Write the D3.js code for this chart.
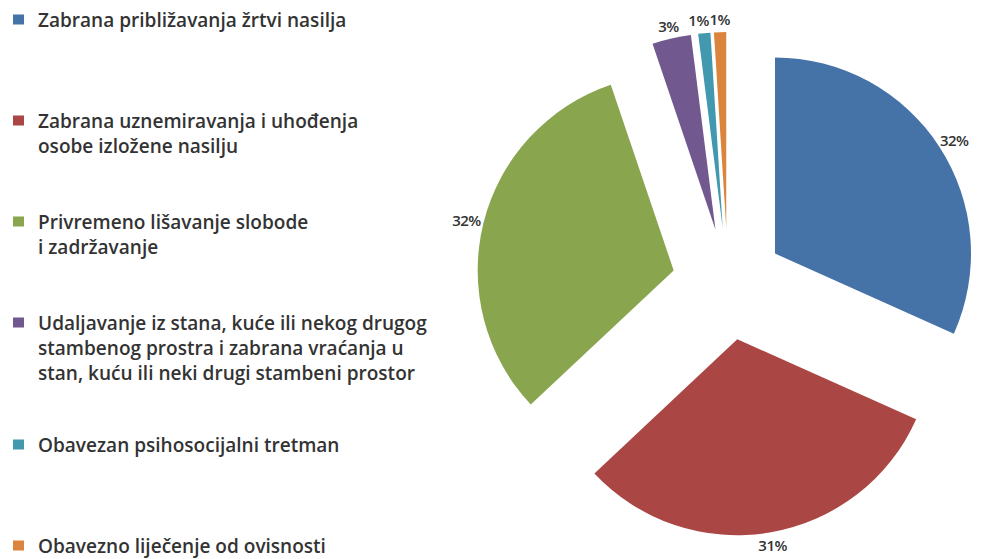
<!DOCTYPE html>
<meta charset="utf-8">
<style>
  body { margin: 0; background: #fff; }
  svg { display: block; }
</style>
<body>
<script src="https://d3js.org/d3.v7.min.js"></script>
<script>
// mjere iz tabele (procenti, procijenjeni sa slike)
var categories = [
  ["Zabrana približavanja žrtvi nasilja"],
  ["Zabrana uznemiravanja i uhođenja", "osobe izložene nasilju"],
  ["Privremeno lišavanje slobode", "i zadržavanje"],
  ["Udaljavanje iz stana, kuće ili nekog drugog", "stambenog prostra i zabrana vraćanja u", "stan, kuću ili neki drugi stambeni prostor"],
  ["Obavezan psihosocijalni tretman"],
  ["Obavezno liječenje od ovisnosti"]
];
var values = [31.7, 31.3, 31.8, 3.2, 1.0, 1.0];
var labels = ["32%", "31%", "32%", "3%", "1%", "1%"];
var colors = ["#4572a7", "#aa4643", "#89a54e", "#71588f", "#4198af", "#db843d"];

var W = 981, H = 559;
var cx = 728, cy = 284, radius = 196, explode = 56;

var svg = d3.select("body").append("svg")
  .attr("width", W)
  .attr("height", H);

// pie
var pie = d3.pie().sort(null).value(function(d){ return d; });
var arc = d3.arc().innerRadius(0).outerRadius(radius);
var slices = pie(values);

var g = svg.append("g").attr("transform", "translate(" + cx + "," + cy + ")");

function offset(d){
  var m = (d.startAngle + d.endAngle) / 2;
  return [explode * Math.sin(m), -explode * Math.cos(m)];
}

g.selectAll("path.slice").data(slices).enter().append("path")
  .attr("class", "slice")
  .attr("transform", function(d){ return "translate(" + offset(d) + ")"; })
  .attr("d", arc)
  .attr("fill", function(d, i){ return colors[i]; });

// labels outside the end of each slice
var lab = g.selectAll("text.lab").data(slices).enter().append("text")
  .attr("class", "lab")
  .attr("font-family", "'Open Sans', sans-serif")
  .attr("font-weight", 600)
  .attr("font-size", 15)
  .attr("letter-spacing", -0.5)
  .attr("fill", "#333")
  .attr("text-anchor", "middle")
  .attr("dominant-baseline", "central")
  .text(function(d, i){ return labels[i]; });

var boxes = [];
lab.each(function(d){
  var m = (d.startAngle + d.endAngle) / 2,
      bb = this.getBBox(),
      o = offset(d),
      rr = radius + 3;
  var x = o[0] + (rr + bb.width / 2) * Math.sin(m),
      y = o[1] - rr * Math.cos(m) - bb.height / 2 * Math.cos(m);
  boxes.push({node: this, x: x, y: y, w: bb.width, h: bb.height});
});
// push crowded labels apart (right to left, as the small slices sit at the top)
for (var i = boxes.length - 2; i >= 0; i--) {
  var a = boxes[i], b = boxes[i + 1];
  if (Math.abs(a.y - b.y) < (a.h + b.h) / 2 && a.x + a.w / 2 > b.x - b.w / 2 && a.x < b.x) {
    a.x = b.x - b.w / 2 - a.w / 2;
  }
}
boxes.forEach(function(b){ d3.select(b.node).attr("x", b.x).attr("y", b.y); });

// legend
var lineH = 25, minStep = 101, gap = 47, longest = 389;
var legend = svg.append("g").attr("class", "legend");
var itemTop = 7;
categories.forEach(function(lines, i){
  var item = legend.append("g").attr("transform", "translate(0," + itemTop + ")");
  item.append("rect")
    .attr("x", 13).attr("y", lineH / 2 - 5)
    .attr("width", 11).attr("height", 10)
    .attr("fill", colors[i]);
  item.selectAll("text").data(lines).enter().append("text")
    .attr("class", "ltext")
    .attr("x", 38)
    .attr("y", function(d, j){ return j * lineH + lineH / 2; })
    .attr("dominant-baseline", "central")
    .attr("font-family", "'Open Sans', sans-serif")
    .attr("font-weight", 600)
    .attr("font-size", 18)
    .attr("fill", "#333")
    .text(function(d){ return d; });
  itemTop += Math.max(minStep, lines.length * lineH + gap);
});

// fit font so that the longest legend line matches the reference width
var maxW = d3.max(legend.selectAll("text.ltext").nodes(), function(n){ return n.getComputedTextLength(); });
legend.selectAll("text.ltext").attr("font-size", 18 * longest / maxW);
</script>
</body>
